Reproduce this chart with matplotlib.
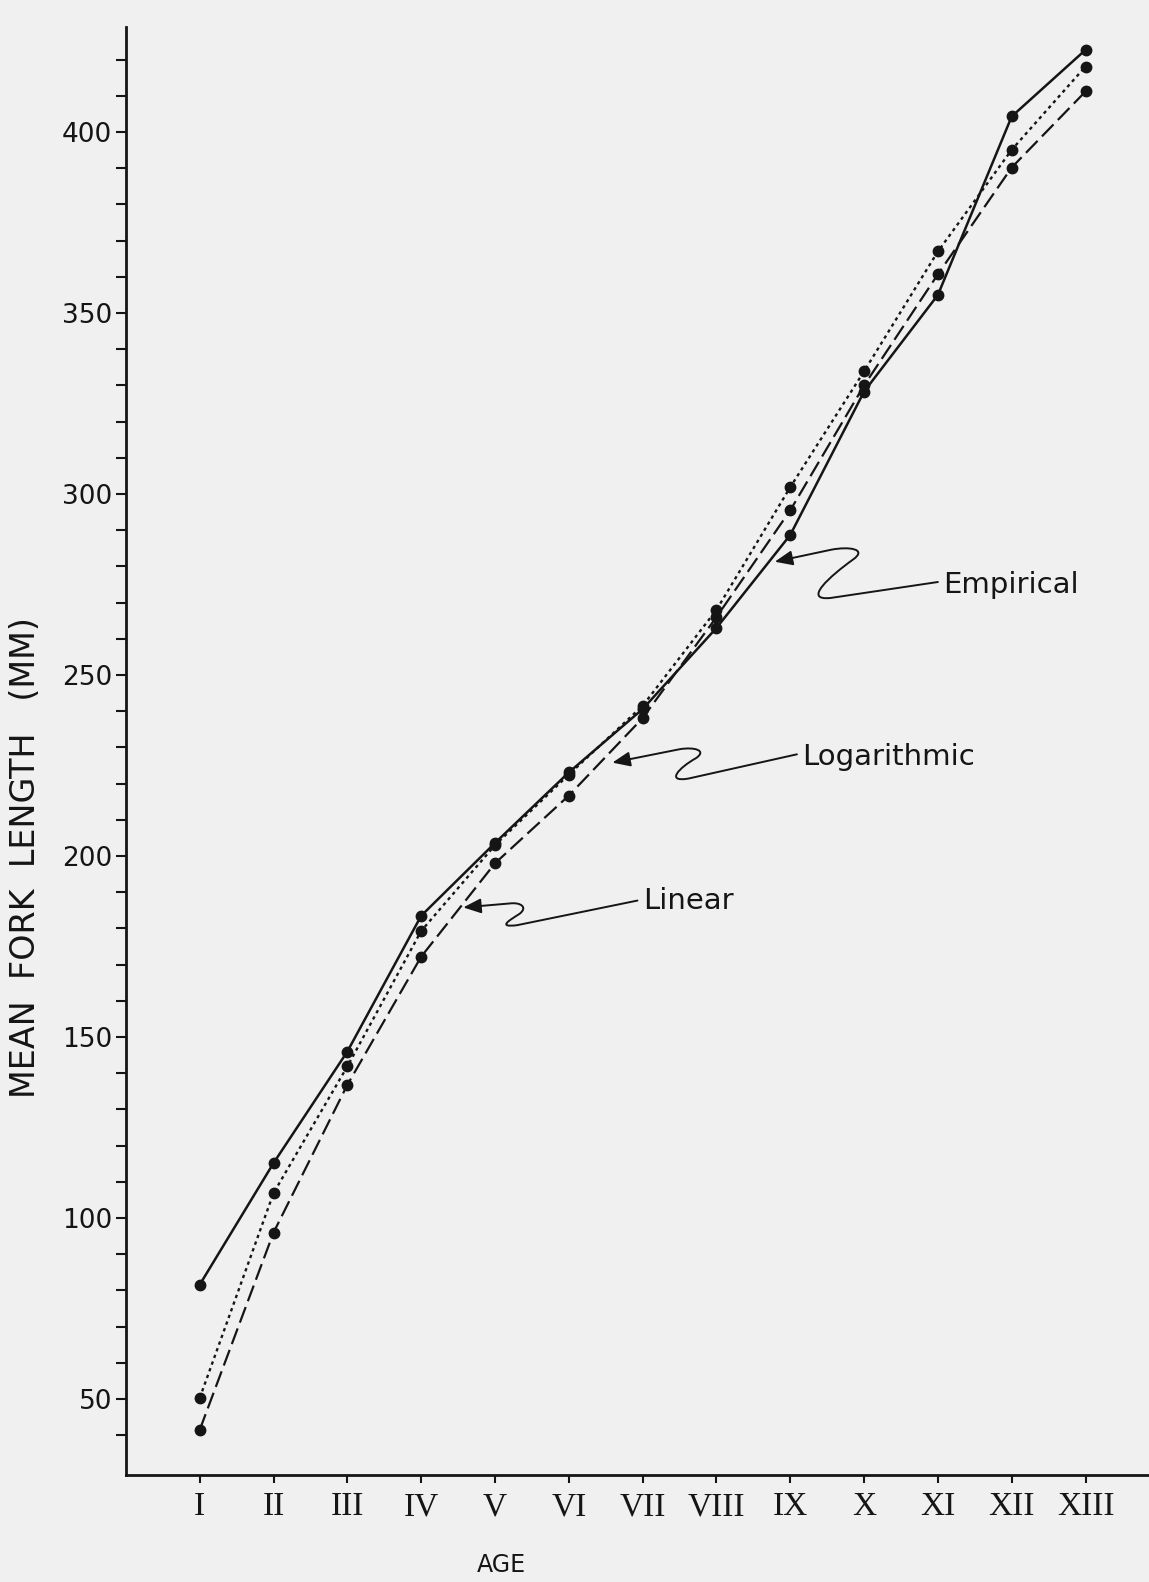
import matplotlib.pyplot as plt
from matplotlib.path import Path
from matplotlib.patches import FancyArrowPatch
from matplotlib.ticker import FixedLocator

# valores (mm)
ages = ["I", "II", "III", "IV", "V", "VI", "VII", "VIII", "IX", "X", "XI", "XII", "XIII"]
age_pos = list(range(1, 14))
empirical = [81.6, 115.2, 146.0, 183.5, 203.6, 223.1, 240.6, 263.0, 288.7, 328.3, 355.0, 404.3, 422.7]
linear = [50.3, 106.9, 141.9, 179.3, 203.0, 222.5, 241.5, 268.0, 301.9, 333.9, 367.0, 395.1, 418.1]
logarithmic = [41.5, 96.0, 136.8, 172.2, 198.0, 216.7, 238.1, 266.0, 295.5, 330.0, 360.7, 390.2, 411.2]

y_major = list(range(50, 401, 50))
y_minor = [v for v in range(40, 421, 10) if v % 50]

ink = "#151515"
bg = "#f0f0f0"

fig = plt.figure(figsize=(11.49, 15.82), dpi=100, facecolor=bg)
ax = fig.add_axes([0.1096, 0.0676, 0.8904, 0.9153])
ax.set_facecolor(bg)

ax.plot(age_pos, empirical, color=ink, lw=1.8, marker="o", ms=7.5)
ax.plot(age_pos, linear, color=ink, lw=1.7, ls=(0, (1.4, 1.6)), marker="o", ms=7.5)
ax.plot(age_pos, logarithmic, color=ink, lw=1.6, ls=(0, (7.5, 2.8)), marker="o", ms=7.5)

ax.set_xlim(0, 13.86)
ax.set_ylim(29, 429)
ax.set_xticks(age_pos)
ax.set_xticklabels(ages, fontfamily="Liberation Serif", fontsize=24)
ax.set_yticks(y_major)
ax.yaxis.set_minor_locator(FixedLocator(y_minor))

for s in ["top", "right"]:
    ax.spines[s].set_visible(False)
for s in ["left", "bottom"]:
    ax.spines[s].set_linewidth(2)
    ax.spines[s].set_color(ink)

ax.tick_params(axis="both", which="both", direction="out", width=1.5, color=ink, labelcolor=ink)
ax.tick_params(axis="y", which="both", length=7, labelsize=19, pad=3)
ax.tick_params(axis="x", length=6, pad=6)

fig.text(0.0226, 0.458, "MEAN  FORK  LENGTH   (MM)", rotation=90,
         ha="center", va="center", fontsize=24, color=ink)
fig.text(0.436, 0.0105, "AGE", ha="center", va="center", fontsize=17, color=ink)

# setas onduladas das legendas
def seta(verts):
    codes = [Path.MOVETO, Path.LINETO, Path.CURVE4, Path.CURVE4, Path.CURVE4,
             Path.CURVE4, Path.CURVE4, Path.CURVE4, Path.LINETO]
    p = FancyArrowPatch(path=Path(verts, codes), arrowstyle="-|>,head_length=0.6,head_width=0.25",
                        mutation_scale=18, lw=1.4, color=ink)
    ax.add_patch(p)

seta([(11.0, 275.7), (9.55, 271.3), (9.15, 270.4), (9.55, 277.5), (9.85, 281.9),
      (10.05, 284.8), (9.8, 285.6), (9.55, 284.6), (8.79, 281.3)])
seta([(9.09, 228.1), (7.62, 221.4), (7.3, 220.3), (7.5, 224.5), (7.72, 227.0),
      (7.88, 229.2), (7.7, 230.2), (7.5, 229.5), (6.59, 225.8)])
seta([(6.93, 187.7), (5.3, 180.9), (5.02, 180.2), (5.2, 182.3), (5.33, 184.0),
      (5.45, 185.8), (5.35, 187.3), (5.2, 186.9), (4.57, 185.8)])

ax.text(11.07, 275.6, "Empirical", ha="left", va="center_baseline", fontsize=21, color=ink)
ax.text(9.16, 228.1, "Logarithmic", ha="left", va="center_baseline", fontsize=21, color=ink)
ax.text(7.0, 188.5, "Linear", ha="left", va="center_baseline", fontsize=21, color=ink)

fig.savefig("out.png", dpi=100, facecolor=bg)
